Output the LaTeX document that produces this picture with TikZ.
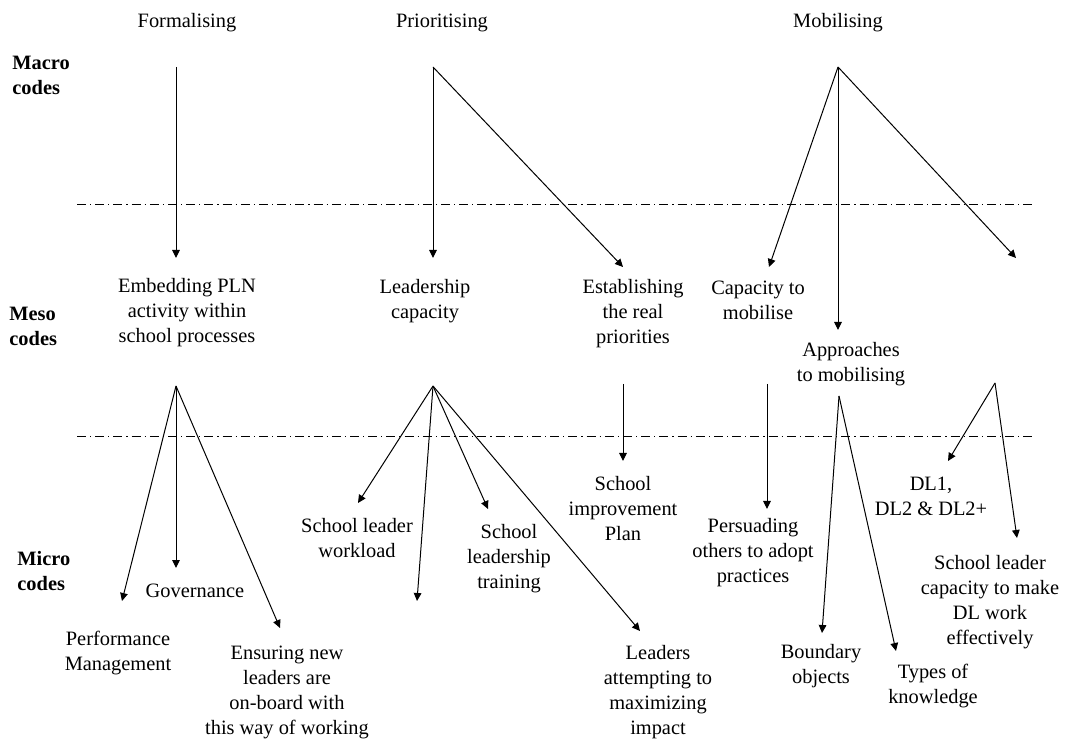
\documentclass[tikz,border=0pt]{standalone}
\usepackage{fontspec}
\setmainfont{Liberation Serif}
\usetikzlibrary{arrows.meta}
\begin{document}
\begin{tikzpicture}[x=0.5pt,y=-0.5pt,
    lbl/.style={align=center,inner sep=0pt,font=\fontsize{10.2}{12.5}\selectfont},
    lvl/.style={anchor=west,align=left,inner sep=0pt,font=\fontsize{10.2}{12.5}\selectfont\bfseries},
    arr/.style={-{Triangle[length=4pt,width=3.8pt]},line width=0.5pt},
    sepline/.style={line width=0.5pt,dash pattern=on 4.5pt off 2pt on 0.6pt off 2pt}]

    \useasboundingbox (0,0) rectangle (1086,742);

    % headings and levels
    \node[lbl] (formalising) at (187,23) {Formalising};
    \node[lbl] (prioritising) at (442,23) {Prioritising};
    \node[lbl] (mobilising) at (838,23) {Mobilising};
    \node[lvl] (macro) at (12,75) {Macro\\codes};
    \node[lvl] (meso) at (9,326) {Meso\\codes};
    \node[lvl] (micro) at (17,571) {Micro\\codes};

    \coordinate (sepA1) at (77,205);
    \coordinate (sepA2) at (1035,205);
    \coordinate (sepB1) at (77,437);
    \coordinate (sepB2) at (1035,437);
    \draw[sepline] (sepA1) -- (sepA2);
    \draw[sepline] (sepB1) -- (sepB2);

    % meso codes
    \node[lbl] (embedding) at (187,313) {Embedding PLN\\activity within\\school processes};
    \node[lbl] (leadcap) at (425,301) {Leadership\\capacity};
    \node[lbl] (establish) at (633,314) {Establishing\\the real\\priorities};
    \node[lbl] (capmob) at (758,300) {Capacity to\\mobilise};
    \node[lbl] (approach) at (851,364) {Approaches\\to mobilising};

    % micro codes
    \node[lbl] (perform) at (118,653) {Performance\\Management};
    \node[lbl] (govern) at (195,591) {Governance};
    \node[lbl] (ensure) at (287,692) {Ensuring new\\leaders are\\on-board with\\this way of working};
    \node[lbl] (workload) at (357,538) {School leader\\workload};
    \node[lbl] (training) at (509,559) {School\\leadership\\training};
    \node[lbl] (sip) at (623,509) {School\\improvement\\Plan};
    \node[lbl] (persuade) at (753,553) {Persuading\\others to adopt\\practices};
    \node[lbl] (dl) at (931,496) {DL1,\\DL2 \& DL2+};
    \node[lbl] (dlcap) at (990,602) {School leader\\capacity to make\\DL work\\effectively};
    \node[lbl] (maximize) at (658,692) {Leaders\\attempting to\\maximizing\\impact};
    \node[lbl] (boundary) at (821,666) {Boundary\\objects};
    \node[lbl] (knowledge) at (933,686) {Types of\\knowledge};

    % arrow roots
    \coordinate (formtop) at (176,67);
    \coordinate (priotop) at (433,67);
    \coordinate (mobtop) at (838,67);
    \coordinate (embtop) at (176,386);
    \coordinate (leadtop) at (433,386);
    \coordinate (esttop) at (623,384);
    \coordinate (captop) at (767,384);
    \coordinate (apptop) at (839,396);
    \coordinate (dltop) at (995,383);
    \coordinate (mobend) at (1016,258);
    \coordinate (leadend) at (417,601);

    % macro to meso
    \draw[arr] (formtop) -- (176,258);
    \draw[arr] (priotop) -- (433,258);
    \draw[arr] (priotop) -- (623,267);
    \draw[arr] (mobtop) -- (769,267);
    \draw[arr] (mobtop) -- (838,330);
    \draw[arr] (mobtop) -- (mobend);

    % meso to micro
    \draw[arr] (embtop) -- (122,601);
    \draw[arr] (embtop) -- (176,568);
    \draw[arr] (embtop) -- (280,628);
    \draw[arr] (leadtop) -- (358,503);
    \draw[arr] (leadtop) -- (leadend);
    \draw[arr] (leadtop) -- (488,509);
    \draw[arr] (leadtop) -- (640,631);
    \draw[arr] (esttop) -- (623,461);
    \draw[arr] (captop) -- (767,509);
    \draw[arr] (apptop) -- (822,633);
    \draw[arr] (apptop) -- (896,651);
    \draw[arr] (dltop) -- (948,461);
    \draw[arr] (dltop) -- (1017,538);
\end{tikzpicture}
\end{document}
